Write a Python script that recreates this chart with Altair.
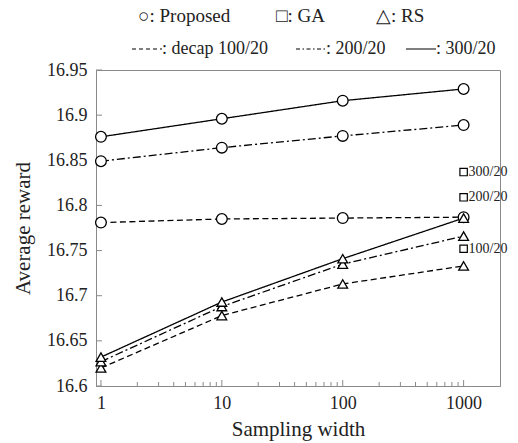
import altair as alt
import pandas as pd

# Sampling widths on the x axis (log scale)
widths = [1, 10, 100, 1000]
configs = ["100/20", "200/20", "300/20"]

# Average reward of the proposed method per decap configuration
proposed_100 = [16.781, 16.785, 16.786, 16.787]
proposed_200 = [16.849, 16.864, 16.877, 16.889]
proposed_300 = [16.876, 16.896, 16.916, 16.929]

# Random search (RS)
rs_100 = [16.620, 16.678, 16.713, 16.733]
rs_200 = [16.627, 16.688, 16.735, 16.766]
rs_300 = [16.632, 16.693, 16.741, 16.786]

# Genetic algorithm (GA), evaluated at the largest width only
ga_width = 1000
ga_values = [16.752, 16.809, 16.837]

# Axis ticks
y_ticks = [16.6, 16.65, 16.7, 16.75, 16.8, 16.85, 16.9, 16.95]
x_major = [1, 10, 100, 1000]
x_minor = [m * d for d in [1, 10, 100] for m in range(2, 10)]

FONT = "Liberation Serif, Times New Roman, serif"
INK = "#222222"
FRAME = "#8a8a8a"

rows = []
for cfg, vals in zip(configs, [proposed_100, proposed_200, proposed_300]):
    for w, v in zip(widths, vals):
        rows.append({"method": "Proposed", "config": cfg, "width": w, "reward": v})
for cfg, vals in zip(configs, [rs_100, rs_200, rs_300]):
    for w, v in zip(widths, vals):
        rows.append({"method": "RS", "config": cfg, "width": w, "reward": v})
df = pd.DataFrame(rows)
df["series"] = df["method"] + " " + df["config"]

ga_df = pd.DataFrame({"config": configs, "width": [ga_width] * 3, "reward": ga_values})

x_scale = alt.Scale(type="log", domain=[0.91, 2000], nice=False)
y_scale = alt.Scale(domain=[16.6, 16.95], nice=False, zero=False)

dash_scale = alt.Scale(domain=configs, range=[[6, 3.5], [8, 3, 2, 3], [1, 0]])

x_axis = alt.Axis(
    values=x_major, format="d", ticks=False, grid=False,
    labelFont=FONT, labelFontSize=18, labelColor=INK, labelPadding=8,
    titleFont=FONT, titleFontSize=21, titleColor=INK, titleFontWeight="normal",
    titlePadding=6, domainColor=FRAME,
)
y_axis = alt.Axis(
    values=y_ticks, format=".2~f", ticks=False, grid=False,
    labelFont=FONT, labelFontSize=18, labelColor=INK, labelPadding=9,
    titleFont=FONT, titleFontSize=21, titleColor=INK, titleFontWeight="normal",
    titlePadding=13, domainColor=FRAME,
)

lines = alt.Chart(df).mark_line(color="black", strokeWidth=1.3).encode(
    x=alt.X("width:Q", scale=x_scale, axis=x_axis, title="Sampling width"),
    y=alt.Y("reward:Q", scale=y_scale, axis=y_axis, title="Average reward"),
    strokeDash=alt.StrokeDash("config:N", scale=dash_scale, legend=None),
    detail="series:N",
)

circles = alt.Chart(df[df["method"] == "Proposed"]).mark_point(
    shape="circle", size=115, filled=True, fill="white", stroke="black", strokeWidth=1.3, opacity=1
).encode(x=alt.X("width:Q", scale=x_scale), y=alt.Y("reward:Q", scale=y_scale))

triangles = alt.Chart(df[df["method"] == "RS"]).mark_point(
    shape="triangle-up", size=95, filled=True, fill="white", stroke="black", strokeWidth=1.3, opacity=1
).encode(x=alt.X("width:Q", scale=x_scale), y=alt.Y("reward:Q", scale=y_scale))

squares = alt.Chart(ga_df).mark_point(
    shape="square", size=55, filled=True, fill="white", stroke="black", strokeWidth=1.2, opacity=1
).encode(x=alt.X("width:Q", scale=x_scale), y=alt.Y("reward:Q", scale=y_scale))

ga_labels = alt.Chart(ga_df).mark_text(
    align="left", baseline="middle", dx=5, font=FONT, fontSize=14, color=INK
).encode(x=alt.X("width:Q", scale=x_scale), y=alt.Y("reward:Q", scale=y_scale), text="config:N")

# Inward tick marks along the bottom and left edges
major_df = pd.DataFrame({"width": x_major})
minor_df = pd.DataFrame({"width": x_minor})
ytick_df = pd.DataFrame({"reward": y_ticks})

x_major_ticks = alt.Chart(major_df).mark_rule(color=FRAME, strokeWidth=1).encode(
    x=alt.X("width:Q", scale=x_scale), y=alt.value(316), y2=alt.value(310)
)
x_minor_ticks = alt.Chart(minor_df).mark_rule(color=FRAME, strokeWidth=1).encode(
    x=alt.X("width:Q", scale=x_scale), y=alt.value(316), y2=alt.value(312)
)
y_ticks_in = alt.Chart(ytick_df).mark_rule(color=FRAME, strokeWidth=1).encode(
    y=alt.Y("reward:Q", scale=y_scale), x=alt.value(0), x2=alt.value(6)
)

# Legend drawn above the plot area
one = pd.DataFrame({"k": [0]})


def legend_text(text, x, y, size):
    return alt.Chart(one).mark_text(
        align="left", baseline="middle", font=FONT, fontSize=size, color=INK
    ).encode(x=alt.value(x), y=alt.value(y), text=alt.value(text))


def legend_line(x0, x1, y, dash):
    return alt.Chart(one).mark_rule(color="black", strokeWidth=1.2, strokeDash=dash).encode(
        x=alt.value(x0), x2=alt.value(x1), y=alt.value(y)
    )


row1 = -54
row2 = -21
legend = [
    legend_text("○: Proposed", 42, row1, 19),
    legend_text("□: GA", 180, row1, 19),
    legend_text("△: RS", 280, row1, 19),
    legend_line(36, 66, row2, [4, 3]),
    legend_text(": decap 100/20", 66, row2, 18),
    legend_line(200, 230, row2, [4, 2.5, 1.5, 2.5]),
    legend_text(": 200/20", 230, row2, 18),
    legend_line(310, 340, row2, [1, 0]),
    legend_text(": 300/20", 340, row2, 18),
]

chart = alt.layer(
    x_minor_ticks, x_major_ticks, y_ticks_in,
    lines, circles, triangles, squares, ga_labels,
    *legend,
).properties(
    width=404, height=316,
    autosize=alt.AutoSizeParams(type="none"),
    padding={"left": 96, "top": 70, "right": 18, "bottom": 57},
    background="white",
).configure_view(
    stroke=FRAME, strokeWidth=1
)

chart.save("out.html", embed_options={"renderer": "svg", "actions": False})
